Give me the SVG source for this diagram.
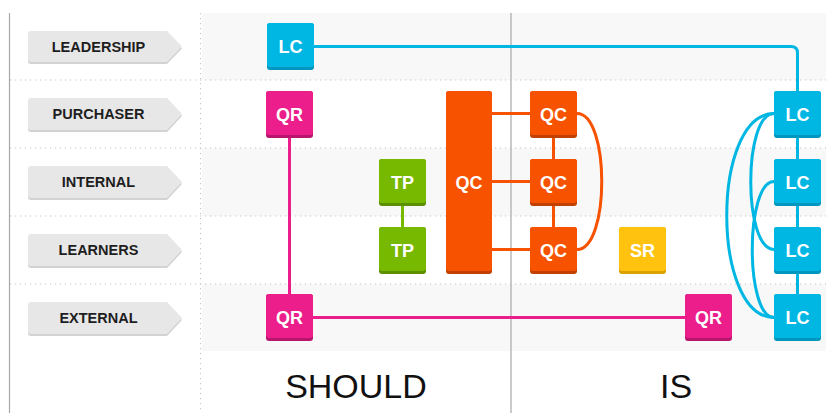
<svg xmlns="http://www.w3.org/2000/svg" width="826" height="413" viewBox="0 0 826 413">
<style>
.band{fill:#f8f8f8}
.dot{stroke:#c4c4c4;stroke-width:1;stroke-dasharray:1.2 3.8;fill:none}
.axis{stroke:#a8a8a8;stroke-width:1.2;fill:none}
.tag{fill:#e7e7e7}
.tagsh{fill:#d2d2d2}
.tagt{font-family:"Liberation Sans",Arial,sans-serif;font-weight:bold;font-size:14.5px;fill:#1e1e1e;text-anchor:middle}
.nt{font-family:"Liberation Sans",Arial,sans-serif;font-weight:bold;font-size:18px;fill:#ffffff;text-anchor:middle}
.big{font-family:"Liberation Sans",Arial,sans-serif;font-weight:normal;font-size:34px;fill:#111;text-anchor:middle}
.lc .m{fill:#00b7e3}.lc .s{fill:#0096bd}
.qr .m{fill:#eb1e8b}.qr .s{fill:#b8166d}
.tp .m{fill:#77b800}.tp .s{fill:#5c8f00}
.qc .m{fill:#f65200}.qc .s{fill:#bf4000}
.sr .m{fill:#ffc20f}.sr .s{fill:#d9a200}
.c{fill:none;stroke-width:3}
.cb{stroke:#00b7e3}.cp{stroke:#eb1e8b}.cg{stroke:#77b800}.co{stroke:#f65200}
</style>
<rect x="0" y="0" width="826" height="413" fill="#ffffff"/>
<g id="bands">
<rect class="band" x="202" y="13" width="624" height="67"/>
<rect class="band" x="202" y="148" width="624" height="68"/>
<rect class="band" x="202" y="284" width="624" height="67"/>
</g>
<g id="grid">
<path class="dot" d="M10,80H826M10,148H826M10,216H826M10,284H826"/>
<path class="dot" d="M200.5,13V413"/>
<path class="axis" d="M9.5,13V413"/>
<path class="axis" d="M511,13V413"/>
</g>
<g id="row-labels">
<g id="tag-leadership"><path class="tagsh" d="M31,33H167L182,48.5L167,64H31Q28,64 28,61V36Q28,33 31,33Z"/><path class="tag" d="M31,31H167L182,46.5L167,62H31Q28,62 28,59V34Q28,31 31,31Z"/><text class="tagt" x="98.5" y="51.7">LEADERSHIP</text></g>
<g id="tag-purchaser"><path class="tagsh" d="M31,100H167L182,116L167,132H31Q28,132 28,129V103Q28,100 31,100Z"/><path class="tag" d="M31,98H167L182,114L167,130H31Q28,130 28,127V101Q28,98 31,98Z"/><text class="tagt" x="98.5" y="119.2">PURCHASER</text></g>
<g id="tag-internal"><path class="tagsh" d="M31,168H167L182,184L167,200H31Q28,200 28,197V171Q28,168 31,168Z"/><path class="tag" d="M31,166H167L182,182L167,198H31Q28,198 28,195V169Q28,166 31,166Z"/><text class="tagt" x="98.5" y="187.2">INTERNAL</text></g>
<g id="tag-learners"><path class="tagsh" d="M31,236H167L182,252L167,268H31Q28,268 28,265V239Q28,236 31,236Z"/><path class="tag" d="M31,234H167L182,250L167,266H31Q28,266 28,263V237Q28,234 31,234Z"/><text class="tagt" x="98.5" y="255.2">LEARNERS</text></g>
<g id="tag-external"><path class="tagsh" d="M31,304H167L182,320L167,336H31Q28,336 28,333V307Q28,304 31,304Z"/><path class="tag" d="M31,302H167L182,318L167,334H31Q28,334 28,331V305Q28,302 31,302Z"/><text class="tagt" x="98.5" y="323.2">EXTERNAL</text></g>
</g>
<g id="connectors">
<path class="c cb" d="M313,46.5H791Q797.5,46.5 797.5,53V91"/>
<path class="c cb" d="M797.5,137V294"/>
<path class="c cb" d="M774,113.5C743,113.5 743,249.5 774,249.5"/>
<path class="c cb" d="M774,113.5C711,113.5 711,317.5 774,317.5"/>
<path class="c cb" d="M774,181.5C745,181.5 745,317.5 774,317.5"/>
<path class="c cp" d="M289.5,137V294"/>
<path class="c cp" d="M313,317.5H685"/>
<path class="c cg" d="M402.5,205V227"/>
<path class="c co" d="M492,113.5H530M492,181.5H530M492,249.5H530"/>
<path class="c co" d="M553.5,137V227"/>
<path class="c co" d="M577,113.5C610,113.5 610,249.5 577,249.5"/>
</g>
<g id="node-lc-leadership" class="lc"><rect class="s" x="267" y="23" width="47" height="47" rx="3"/><rect class="m" x="267" y="23" width="47" height="44" rx="3"/><text class="nt" x="290.5" y="52.5">LC</text></g>
<g id="node-qr-purchaser" class="qr"><rect class="s" x="266" y="91" width="47" height="47" rx="3"/><rect class="m" x="266" y="91" width="47" height="44" rx="3"/><text class="nt" x="289.5" y="120.5">QR</text></g>
<g id="node-tp-internal" class="tp"><rect class="s" x="379" y="159" width="47" height="47" rx="3"/><rect class="m" x="379" y="159" width="47" height="44" rx="3"/><text class="nt" x="402.5" y="188.5">TP</text></g>
<g id="node-tp-learners" class="tp"><rect class="s" x="379" y="227" width="47" height="47" rx="3"/><rect class="m" x="379" y="227" width="47" height="44" rx="3"/><text class="nt" x="402.5" y="256.5">TP</text></g>
<g id="node-qc-should" class="qc"><rect class="s" x="446" y="91" width="46" height="183" rx="3"/><rect class="m" x="446" y="91" width="46" height="180" rx="3"/><text class="nt" x="469" y="188.5">QC</text></g>
<g id="node-qc-purchaser" class="qc"><rect class="s" x="530" y="91" width="47" height="47" rx="3"/><rect class="m" x="530" y="91" width="47" height="44" rx="3"/><text class="nt" x="553.5" y="120.5">QC</text></g>
<g id="node-qc-internal" class="qc"><rect class="s" x="530" y="159" width="47" height="47" rx="3"/><rect class="m" x="530" y="159" width="47" height="44" rx="3"/><text class="nt" x="553.5" y="188.5">QC</text></g>
<g id="node-qc-learners" class="qc"><rect class="s" x="530" y="227" width="47" height="47" rx="3"/><rect class="m" x="530" y="227" width="47" height="44" rx="3"/><text class="nt" x="553.5" y="256.5">QC</text></g>
<g id="node-sr" class="sr"><rect class="s" x="619" y="227" width="47" height="47" rx="3"/><rect class="m" x="619" y="227" width="47" height="44" rx="3"/><text class="nt" x="642.5" y="256.5">SR</text></g>
<g id="node-qr-external-should" class="qr"><rect class="s" x="266" y="294" width="47" height="47" rx="3"/><rect class="m" x="266" y="294" width="47" height="44" rx="3"/><text class="nt" x="289.5" y="323.5">QR</text></g>
<g id="node-qr-external-is" class="qr"><rect class="s" x="685" y="294" width="47" height="47" rx="3"/><rect class="m" x="685" y="294" width="47" height="44" rx="3"/><text class="nt" x="708.5" y="323.5">QR</text></g>
<g id="node-lc-purchaser" class="lc"><rect class="s" x="774" y="91" width="47" height="47" rx="3"/><rect class="m" x="774" y="91" width="47" height="44" rx="3"/><text class="nt" x="797.5" y="120.5">LC</text></g>
<g id="node-lc-internal" class="lc"><rect class="s" x="774" y="159" width="47" height="47" rx="3"/><rect class="m" x="774" y="159" width="47" height="44" rx="3"/><text class="nt" x="797.5" y="188.5">LC</text></g>
<g id="node-lc-learners" class="lc"><rect class="s" x="774" y="227" width="47" height="47" rx="3"/><rect class="m" x="774" y="227" width="47" height="44" rx="3"/><text class="nt" x="797.5" y="256.5">LC</text></g>
<g id="node-lc-external" class="lc"><rect class="s" x="774" y="294" width="47" height="47" rx="3"/><rect class="m" x="774" y="294" width="47" height="44" rx="3"/><text class="nt" x="797.5" y="323.5">LC</text></g>
<g id="column-labels">
<text class="big" x="356" y="398">SHOULD</text>
<text class="big" x="676" y="398">IS</text>
</g>
</svg>
